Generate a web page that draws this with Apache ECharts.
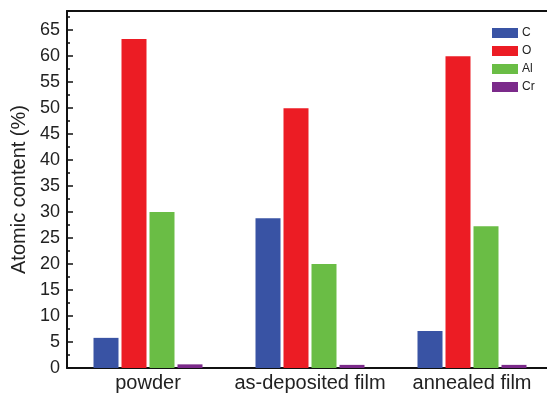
<!DOCTYPE html>
<html>
<head>
<meta charset="utf-8">
<script src="https://cdn.jsdelivr.net/npm/echarts@6/dist/echarts.min.js"></script>
<style>
  html, body { margin: 0; padding: 0; background: #fff; }
  #chart { width: 547px; height: 394px; }
</style>
</head>
<body>
<div id="chart"></div>
<script>
// Sample groups on the x axis
const categories = ['powder', 'as-deposited film', 'annealed film'];
// Atomic content (%) per element
const carbon = [5.8, 28.8, 7.1];
const oxygen = [63.3, 50.0, 60.0];
const aluminium = [30.0, 20.0, 27.3];
const chromium = [0.7, 0.6, 0.6];
const elementNames = ['C', 'O', 'Al', 'Cr'];
const elementColors = ['#3953a4', '#ec1c24', '#6abd45', '#7b2a8a'];

const chart = echarts.init(document.getElementById('chart'));
const fontFamily = 'Liberation Sans, Arial, sans-serif';

const seriesData = [carbon, oxygen, aluminium, chromium];

chart.setOption({
  animation: false,
  textStyle: { fontFamily },
  grid: { left: 67, width: 486, top: 11, bottom: 26, outerBoundsMode: 'none', containLabel: false },
  legend: {
    orient: 'vertical',
    left: 487, top: 22,
    itemWidth: 26, itemHeight: 10, itemGap: 6,
    icon: 'rect',
    textStyle: { fontSize: 12, color: '#222', fontFamily, padding: [0, 0, 0, -1] },
    data: elementNames
  },
  xAxis: [{
    type: 'category',
    data: categories,
    axisLine: { lineStyle: { color: '#111', width: 2 } },
    axisTick: { show: false },
    splitLine: { show: false },
    axisLabel: { fontSize: 20, color: '#222', margin: 5, interval: 0, fontFamily }
  }, {
    // top frame line
    type: 'category',
    position: 'top',
    data: categories,
    axisLine: { lineStyle: { color: '#111', width: 2 } },
    axisTick: { show: false },
    splitLine: { show: false },
    axisLabel: { show: false }
  }],
  yAxis: {
    type: 'value',
    min: 0, max: 68.7, interval: 5,
    name: 'Atomic content (%)',
    nameLocation: 'middle',
    nameGap: 38,
    nameTextStyle: { fontSize: 20, color: '#222', fontFamily },
    axisLine: { show: true, lineStyle: { color: '#111', width: 2 } },
    axisTick: { show: true, inside: true, length: 6, lineStyle: { color: '#111', width: 1.5 } },
    minorTick: { show: true, splitNumber: 2, length: 3, lineStyle: { color: '#111', width: 1.5 } },
    splitLine: { show: false },
    axisLabel: { fontSize: 18, color: '#222', margin: 7, showMaxLabel: false, fontFamily }
  },
  series: elementNames.map((name, i) => ({
    name,
    type: 'bar',
    data: seriesData[i],
    barWidth: 25,
    barGap: '12%',
    itemStyle: { color: elementColors[i] }
  }))
});
</script>
</body>
</html>
